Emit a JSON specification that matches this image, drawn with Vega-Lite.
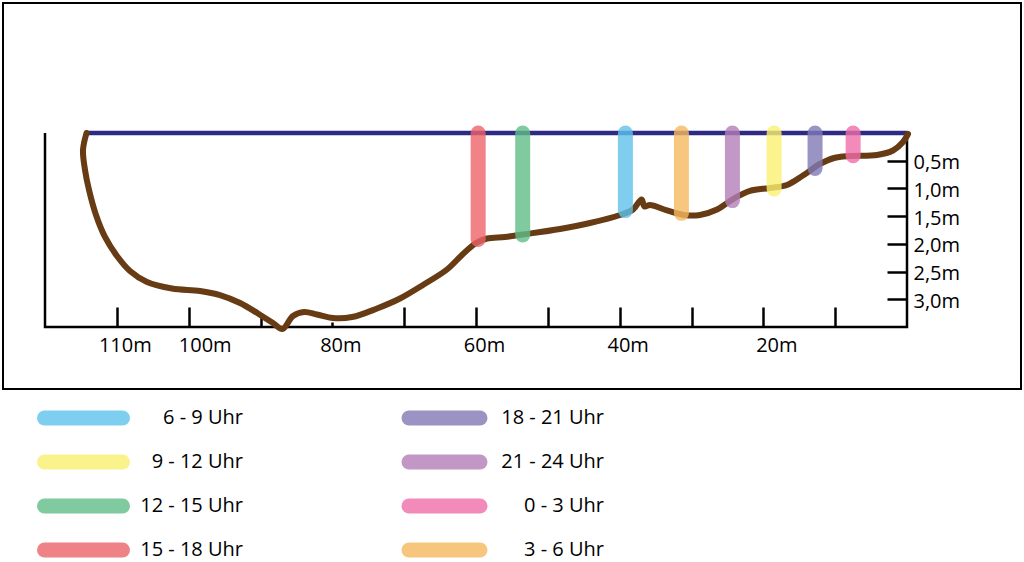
{
  "$schema": "https://vega.github.io/schema/vega-lite/v6.json",
  "width": 1018,
  "height": 386,
  "padding": {"left": 3, "top": 3, "right": 3, "bottom": 173},
  "autosize": {"type": "none"},
  "background": "#ffffff",
  "config": {
    "view": {"stroke": "#000000", "strokeWidth": 2},
    "font": "Open Sans",
    "axis": {
      "grid": false,
      "domain": false,
      "title": null,
      "labelFont": "Open Sans",
      "labelFontSize": 20,
      "labelColor": "#000000",
      "tickColor": "#000000",
      "tickWidth": 2.5
    }
  },
  "datasets": {
    "achsen": [
      {"abstand": 120, "tiefe": 0},
      {"abstand": 120, "tiefe": 3.5},
      {"abstand": 0, "tiefe": 3.5},
      {"abstand": 0, "tiefe": 0.03}
    ],
    "wasserspiegel": [
      {"abstand": 0, "tiefe": 0},
      {"abstand": 114.2, "tiefe": 0}
    ],
    "seegrund": [
      {"abstand": 114.22, "tiefe": 0},
      {"abstand": 114.71, "tiefe": 0.307},
      {"abstand": 114.43, "tiefe": 0.667},
      {"abstand": 113.87, "tiefe": 1.028},
      {"abstand": 112.9, "tiefe": 1.479},
      {"abstand": 111.65, "tiefe": 1.876},
      {"abstand": 109.98, "tiefe": 2.219},
      {"abstand": 108.17, "tiefe": 2.49},
      {"abstand": 105.8, "tiefe": 2.688},
      {"abstand": 102.32, "tiefe": 2.805},
      {"abstand": 98.42, "tiefe": 2.85},
      {"abstand": 95.64, "tiefe": 2.923},
      {"abstand": 92.85, "tiefe": 3.067},
      {"abstand": 90.35, "tiefe": 3.256},
      {"abstand": 88.26, "tiefe": 3.428},
      {"abstand": 86.94, "tiefe": 3.536},
      {"abstand": 85.48, "tiefe": 3.301},
      {"abstand": 83.94, "tiefe": 3.229},
      {"abstand": 82.14, "tiefe": 3.274},
      {"abstand": 79.91, "tiefe": 3.338},
      {"abstand": 77.26, "tiefe": 3.32},
      {"abstand": 73.78, "tiefe": 3.166},
      {"abstand": 70.58, "tiefe": 2.986},
      {"abstand": 67.38, "tiefe": 2.742},
      {"abstand": 64.04, "tiefe": 2.463},
      {"abstand": 61.95, "tiefe": 2.201},
      {"abstand": 60.0, "tiefe": 1.985},
      {"abstand": 58.47, "tiefe": 1.903},
      {"abstand": 55.96, "tiefe": 1.876},
      {"abstand": 53.46, "tiefe": 1.831},
      {"abstand": 48.31, "tiefe": 1.732},
      {"abstand": 44.13, "tiefe": 1.624},
      {"abstand": 39.95, "tiefe": 1.479},
      {"abstand": 38.14, "tiefe": 1.38},
      {"abstand": 36.96, "tiefe": 1.2},
      {"abstand": 36.54, "tiefe": 1.326},
      {"abstand": 35.78, "tiefe": 1.299},
      {"abstand": 33.41, "tiefe": 1.398},
      {"abstand": 31.04, "tiefe": 1.479},
      {"abstand": 28.82, "tiefe": 1.479},
      {"abstand": 26.45, "tiefe": 1.38},
      {"abstand": 24.22, "tiefe": 1.191},
      {"abstand": 21.86, "tiefe": 1.046},
      {"abstand": 19.07, "tiefe": 0.992},
      {"abstand": 16.71, "tiefe": 0.938},
      {"abstand": 14.48, "tiefe": 0.767},
      {"abstand": 12.11, "tiefe": 0.559},
      {"abstand": 10.16, "tiefe": 0.451},
      {"abstand": 7.94, "tiefe": 0.415},
      {"abstand": 4.18, "tiefe": 0.397},
      {"abstand": 1.95, "tiefe": 0.316},
      {"abstand": 0.56, "tiefe": 0.162},
      {"abstand": -0.14, "tiefe": 0.018}
    ],
    "messungen": [
      {"zeit": "15 - 18 Uhr", "abstand": 59.7, "tiefe": 1.92},
      {"zeit": "12 - 15 Uhr", "abstand": 53.5, "tiefe": 1.84},
      {"zeit": "6 - 9 Uhr", "abstand": 39.2, "tiefe": 1.4},
      {"zeit": "3 - 6 Uhr", "abstand": 31.4, "tiefe": 1.45},
      {"zeit": "21 - 24 Uhr", "abstand": 24.3, "tiefe": 1.22},
      {"zeit": "9 - 12 Uhr", "abstand": 18.5, "tiefe": 1.01},
      {"zeit": "18 - 21 Uhr", "abstand": 12.8, "tiefe": 0.64},
      {"zeit": "0 - 3 Uhr", "abstand": 7.5, "tiefe": 0.41}
    ]
  },
  "encoding": {
    "x": {
      "field": "abstand",
      "type": "quantitative",
      "scale": {"domain": [-15.87, 125.847], "reverse": true, "nice": false, "zero": false},
      "axis": {
        "orient": "bottom",
        "offset": -62,
        "values": [10, 20, 30, 40, 50, 60, 70, 80, 90, 100, 110],
        "tickSize": {"condition": [{"test": "datum.value == 80", "value": -5}, {"test": "datum.value == 90", "value": -10}], "value": -20},
        "labelPadding": {"condition": {"test": "datum.value == 80", "value": 13.5}, "value": 28.5},
        "labelOffset": {"condition": [{"test": "datum.value == 100", "value": 16}, {"test": "datum.value == 20", "value": 13}], "value": 8},
        "labelExpr": "indexof([20, 40, 60, 80, 100, 110], datum.value) >= 0 ? datum.value + 'm' : ''"
      }
    },
    "y": {
      "field": "tiefe",
      "type": "quantitative",
      "scale": {"domain": [-2.3454, 4.6186], "reverse": true, "nice": false, "zero": false},
      "axis": {
        "orient": "right",
        "offset": -114,
        "values": [0.5, 1, 1.5, 2, 2.5, 3],
        "tickSize": -20,
        "labelPadding": 26,
        "labelOffset": 2,
        "labelBaseline": "middle",
        "labelExpr": "replace(format(datum.value, '.1f'), '.', ',') + 'm'"
      }
    }
  },
  "layer": [
    {
      "data": {"name": "achsen"},
      "mark": {"type": "line", "color": "#000000", "strokeWidth": 2.5},
      "encoding": {"order": {"value": null}}
    },
    {
      "data": {"name": "wasserspiegel"},
      "mark": {"type": "line", "color": "#2e2a84", "strokeWidth": 4.5},
      "encoding": {"order": {"value": null}}
    },
    {
      "data": {"name": "seegrund"},
      "mark": {"type": "line", "color": "#673c14", "strokeWidth": 6, "strokeCap": "round", "strokeJoin": "round", "interpolate": "catmull-rom"},
      "encoding": {"order": {"value": null}}
    },
    {
      "data": {"name": "messungen"},
      "mark": {"type": "rule", "strokeWidth": 15, "strokeCap": "round", "opacity": 0.8},
      "encoding": {
        "y": {"datum": 0},
        "y2": {"field": "tiefe"},
        "color": {
          "field": "zeit",
          "type": "nominal",
          "scale": {
            "domain": ["6 - 9 Uhr", "9 - 12 Uhr", "12 - 15 Uhr", "15 - 18 Uhr", "18 - 21 Uhr", "21 - 24 Uhr", "0 - 3 Uhr", "3 - 6 Uhr"],
            "range": ["#5fc2ec", "#faf16f", "#60bd88", "#ec636a", "#8179b5", "#b37eb8", "#ef6da9", "#f6b95f"]
          },
          "legend": {
            "orient": "none",
            "legendX": 34,
            "legendY": 405,
            "columns": 2,
            "title": null,
            "padding": 0,
            "clipHeight": 20,
            "symbolType": "stroke",
            "symbolSize": 6084,
            "symbolStrokeWidth": 15,
            "symbolOpacity": 0.8,
            "labelFont": "Open Sans",
            "labelFontSize": 20,
            "labelColor": "#000000",
            "labelAlign": "right",
            "labelOffset": 113,
            "labelLimit": 300,
            "rowPadding": 24,
            "columnPadding": 155,
            "encode": {
              "symbols": {
                "update": {
                  "strokeCap": {"value": "round"},
                  "size": {"signal": "indexof(['18 - 21 Uhr', '21 - 24 Uhr', '0 - 3 Uhr', '3 - 6 Uhr'], datum.value) >= 0 ? 5041 : 6084"}
                }
              }
            }
          }
        }
      }
    }
  ]
}
